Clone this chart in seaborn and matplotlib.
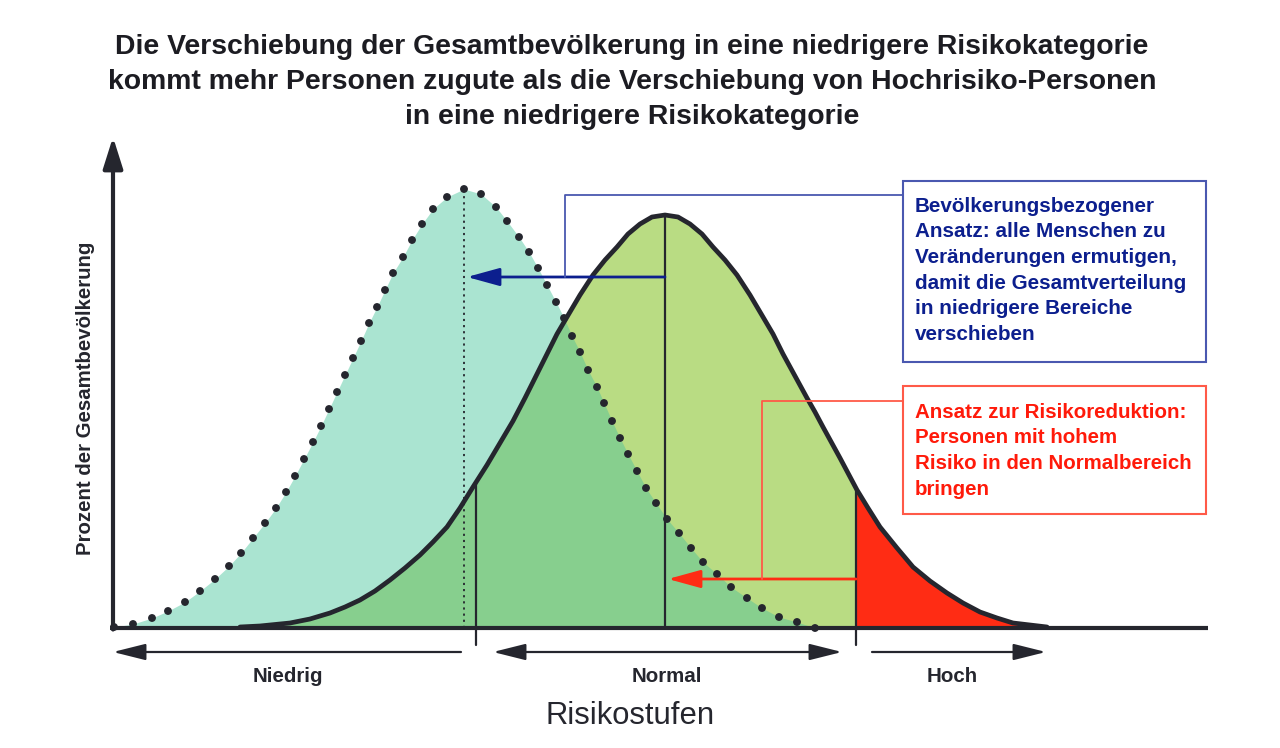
import matplotlib.pyplot as plt
import seaborn as sns
import numpy as np
from matplotlib.patches import Polygon, Rectangle

# Verteilung nach der Verschiebung (gepunktet): Risiko-Position und Hoehe
shift_x = [114, 133, 152, 168, 185, 200, 215, 229, 241, 253, 265, 276, 286, 295,
           304, 313, 321, 329, 337, 345, 353, 361, 369, 377, 385, 393, 403, 412,
           422, 433, 447, 464, 481, 496, 507, 519, 529, 538, 547, 556, 564, 572,
           580, 588, 597, 604, 612, 620, 628, 637, 646, 656, 667, 679, 691, 703,
           717, 731, 747, 762, 779, 797, 815]
shift_y = [1, 4, 10, 17, 26, 37, 49, 62, 75, 90, 105, 120, 136, 152,
           169, 186, 202, 219, 236, 253, 270, 287, 305, 321, 338, 355, 371, 388,
           404, 419, 431, 439, 434, 421, 407, 391, 376, 360, 343, 326, 310, 292,
           276, 258, 241, 225, 207, 190, 174, 157, 140, 125, 109, 95, 80, 66,
           54, 41, 30, 20, 11, 6, 0]

# aktuelle Verteilung (durchgezogen)
pop_x = [240, 260, 290, 310, 330, 345, 360, 375, 390, 405, 420, 433, 447, 460,
         473, 487, 500, 513, 525, 536, 547, 557, 567, 580, 593, 605, 617, 628,
         640, 652, 665, 678, 690, 702, 713, 725, 737, 750, 763, 773, 783, 795,
         807, 815, 823, 840, 857, 868, 880, 897, 913, 930, 947, 963, 980, 997,
         1013, 1030, 1047]
pop_y = [1, 2, 5, 9, 15, 21, 28, 37, 48, 60, 73, 86, 101, 120,
         141, 163, 185, 207, 230, 252, 274, 294, 311, 333, 353, 368, 381, 394,
         404, 411, 413, 411, 404, 394, 381, 368, 353, 333, 311, 294, 274, 252,
         230, 216, 201, 170, 138, 120, 101, 80, 61, 47, 35, 25, 16, 10,
         5, 3, 1]

# Grenzen der Risikostufen und Mittelwerte
cut_low = 476
cut_high = 856
mean_pop = 665
mean_shift = 464
cut_low_h = 145
cut_high_h = 140

zone_labels = ["Niedrig", "Normal", "Hoch"]
zone_centers = [288, 667, 952]

title_lines = ["Die Verschiebung der Gesamtbevölkerung in eine niedrigere Risikokategorie",
               "kommt mehr Personen zugute als die Verschiebung von Hochrisiko-Personen",
               "in eine niedrigere Risikokategorie"]
blue_lines = ["Bevölkerungsbezogener", "Ansatz: alle Menschen zu",
              "Veränderungen ermutigen,", "damit die Gesamtverteilung",
              "in niedrigere Bereiche", "verschieben"]
red_lines = ["Ansatz zur Risikoreduktion:", "Personen mit hohem",
             "Risiko in den Normalbereich", "bringen"]

sns.set_theme(style="white")
plt.rcParams['font.family'] = ['Liberation Sans', 'DejaVu Sans']

TEAL = "#aae4d1"
LGREEN = "#b9dc83"
MGREEN = "#87cf8e"
RED = "#ff2c14"
DARK = "#25262e"
BLUE = "#0c1f8e"
BLUE_L = "#4a58b0"
RED_L = "#ff5a48"


def Y(py):
    return 628 - py


fig = plt.figure(figsize=(12.8, 7.48), dpi=100)
ax = fig.add_axes([0, 0, 1, 1])
ax.set_xlim(0, 1280)
ax.set_ylim(-120, 628)
ax.axis("off")

sx = np.array(shift_x)
sy = np.array(shift_y)
px = np.array(pop_x)
py_ = np.array(pop_y)

pop_poly = np.column_stack([np.r_[px[0], px, px[-1]], np.r_[0, py_, 0]])

ax.fill_between(sx, 0, sy, color=TEAL, lw=0, zorder=1)
ax.fill_between(px, 0, py_, color=LGREEN, lw=0, zorder=2)
clip_pop = Polygon(pop_poly, closed=True, transform=ax.transData)
overlap = ax.fill_between(sx, 0, sy, color=MGREEN, lw=0, zorder=3)
overlap.set_clip_path(clip_pop)
high = ax.fill_between(px, 0, py_, color=RED, lw=0, zorder=3)
high.set_clip_path(Rectangle((cut_high, -5), 400, 500, transform=ax.transData))

# Linien in den Flaechen
ax.plot([mean_pop, mean_pop], [0, max(pop_y)], color=DARK, lw=1.6, zorder=4)
ax.plot([cut_low, cut_low], [Y(645), cut_low_h], color=DARK, lw=1.6, zorder=4)
ax.plot([cut_high, cut_high], [Y(645), cut_high_h], color=DARK, lw=1.6, zorder=4)
ax.plot([mean_shift, mean_shift], [0, max(shift_y)], color=DARK, lw=1.3,
        ls=(0, (1.2, 2.2)), zorder=4)

sns.lineplot(x=pop_x, y=pop_y, ax=ax, color=DARK, lw=3.4, zorder=6,
             solid_capstyle="round", solid_joinstyle="round")
sns.scatterplot(x=shift_x, y=shift_y, ax=ax, color=DARK, s=32, edgecolor="none",
                zorder=5)

# Achsen
ax.plot([110, 1208], [0, 0], color=DARK, lw=3, zorder=7, solid_capstyle="butt")
ax.annotate("", xy=(113, Y(137)), xytext=(113, -1.5),
            arrowprops=dict(arrowstyle="-|>,head_length=1.9,head_width=0.6",
                            mutation_scale=10, color=DARK, lw=3,
                            shrinkA=0, shrinkB=0), zorder=7)

# Pfeile unter der Achse
arr = dict(arrowstyle="-|>,head_length=2.0,head_width=0.5", mutation_scale=10,
           color=DARK, lw=1.6, shrinkA=0, shrinkB=0)
ax.annotate("", xy=(113, Y(652)), xytext=(461, Y(652)), arrowprops=arr)
ax.annotate("", xy=(493, Y(652)), xytext=(842, Y(652)),
            arrowprops=dict(arr, arrowstyle="<|-|>,head_length=2.0,head_width=0.5"))
ax.annotate("", xy=(1046, Y(652)), xytext=(872, Y(652)), arrowprops=arr)
for lab, cx in zip(zone_labels, zone_centers):
    ax.text(cx, Y(677), lab, ha="center", va="center", fontsize=14.8,
            fontweight="bold", color=DARK)
ax.text(630, Y(716), "Risikostufen", ha="center", va="center", fontsize=22.3,
        color=DARK)
ax.text(86, Y(398), "Prozent der Gesamtbevölkerung", ha="center", va="center",
        rotation=90, fontsize=14.7, fontweight="bold", color=DARK)

# Titel
for i, line in enumerate(title_lines):
    ax.text(632, Y(47 + 35 * i), line, ha="center", va="center", fontsize=20.4,
            fontweight="bold", color="#1c1c22")

# blauer Ansatz
ax.annotate("", xy=(467, Y(277)), xytext=(mean_pop, Y(277)),
            arrowprops=dict(arrowstyle="-|>,head_length=2.0,head_width=0.55",
                            mutation_scale=10, color=BLUE, lw=2,
                            shrinkA=0, shrinkB=0), zorder=8)
ax.plot([565, 565, 903], [Y(277), Y(195), Y(195)], color=BLUE_L, lw=1.3, zorder=8)
ax.add_patch(Rectangle((903, Y(362)), 303, 181, fill=False, ec=BLUE_L, lw=1.5,
                       zorder=8))
for i, line in enumerate(blue_lines):
    ax.text(915, Y(206 + 25.7 * i), line, ha="left", va="center", fontsize=14.9,
            fontweight="bold", color=BLUE, zorder=9)

# roter Ansatz
ax.annotate("", xy=(668, Y(579)), xytext=(cut_high, Y(579)),
            arrowprops=dict(arrowstyle="-|>,head_length=2.0,head_width=0.55",
                            mutation_scale=10, color=RED, lw=2,
                            shrinkA=0, shrinkB=0), zorder=8)
ax.plot([762, 762, 903], [Y(579), Y(401), Y(401)], color=RED_L, lw=1.3, zorder=8)
ax.add_patch(Rectangle((903, Y(514)), 303, 128, fill=False, ec=RED_L, lw=1.5,
                       zorder=8))
for i, line in enumerate(red_lines):
    ax.text(915, Y(412 + 25.7 * i), line, ha="left", va="center", fontsize=14.8,
            fontweight="bold", color="#ff1a0a", zorder=9)

fig.savefig("out.png", dpi=100)
